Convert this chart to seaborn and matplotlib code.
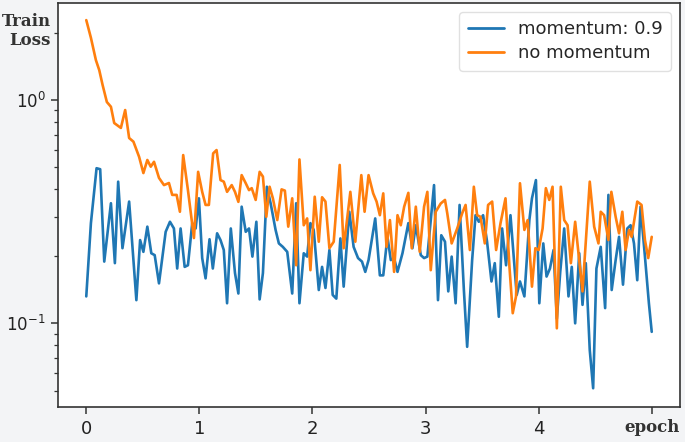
import numpy as np
import pandas as pd
import matplotlib
matplotlib.use("Agg")
import matplotlib.pyplot as plt
import seaborn as sns

# ---- data ----
momentum_epoch = [0.000, 0.041, 0.091, 0.123, 0.159, 0.218, 0.253, 0.282, 0.320, 0.379,
                  0.443, 0.476, 0.505, 0.540, 0.575, 0.605, 0.643, 0.702, 0.740, 0.775,
                  0.804, 0.834, 0.870, 0.899, 0.937, 0.967, 0.996, 1.025, 1.055, 1.090,
                  1.119, 1.157, 1.187, 1.216, 1.245, 1.278, 1.315, 1.345, 1.374, 1.410,
                  1.439, 1.469, 1.504, 1.533, 1.562, 1.597, 1.630, 1.674, 1.703, 1.738,
                  1.777, 1.821, 1.856, 1.885, 1.923, 1.953, 1.982, 2.011, 2.056, 2.085,
                  2.115, 2.150, 2.179, 2.211, 2.247, 2.276, 2.326, 2.364, 2.403, 2.438,
                  2.467, 2.496, 2.555, 2.596, 2.626, 2.663, 2.693, 2.722, 2.752, 2.796,
                  2.848, 2.884, 2.914, 2.958, 2.987, 3.016, 3.075, 3.110, 3.139, 3.172,
                  3.201, 3.231, 3.266, 3.301, 3.339, 3.368, 3.412, 3.442, 3.471, 3.509,
                  3.544, 3.583, 3.612, 3.648, 3.677, 3.712, 3.751, 3.806, 3.835, 3.874,
                  3.918, 3.941, 3.976, 4.006, 4.041, 4.070, 4.100, 4.132, 4.161, 4.191,
                  4.226, 4.264, 4.293, 4.323, 4.359, 4.388, 4.417, 4.452, 4.482, 4.511,
                  4.549, 4.588, 4.617, 4.646, 4.681, 4.711, 4.746, 4.784, 4.813, 4.843,
                  4.872, 4.901, 4.940, 4.975, 5.000]
momentum_loss = [0.132, 0.281, 0.495, 0.490, 0.189, 0.345, 0.186, 0.431, 0.217, 0.351,
                 0.127, 0.236, 0.209, 0.271, 0.206, 0.202, 0.151, 0.257, 0.285, 0.266,
                 0.176, 0.266, 0.179, 0.182, 0.281, 0.266, 0.363, 0.196, 0.159, 0.238,
                 0.176, 0.253, 0.236, 0.213, 0.123, 0.266, 0.168, 0.136, 0.333, 0.257,
                 0.266, 0.199, 0.285, 0.128, 0.168, 0.409, 0.345, 0.262, 0.228, 0.220,
                 0.209, 0.136, 0.345, 0.123, 0.206, 0.199, 0.281, 0.262, 0.141, 0.179,
                 0.144, 0.213, 0.134, 0.129, 0.240, 0.146, 0.316, 0.220, 0.196, 0.189,
                 0.170, 0.192, 0.295, 0.164, 0.164, 0.244, 0.192, 0.196, 0.170, 0.206,
                 0.281, 0.217, 0.275, 0.202, 0.196, 0.199, 0.416, 0.127, 0.248, 0.232,
                 0.139, 0.199, 0.123, 0.339, 0.141, 0.0785, 0.192, 0.305, 0.285, 0.305,
                 0.232, 0.154, 0.186, 0.107, 0.266, 0.182, 0.305, 0.134, 0.154, 0.132,
                 0.290, 0.363, 0.438, 0.123, 0.228, 0.162, 0.176, 0.213, 0.105, 0.170,
                 0.266, 0.132, 0.179, 0.100, 0.206, 0.121, 0.186, 0.0759, 0.0512, 0.176,
                 0.220, 0.117, 0.376, 0.141, 0.192, 0.244, 0.149, 0.266, 0.275, 0.228,
                 0.156, 0.333, 0.199, 0.123, 0.0916]

plain_epoch = [0.000, 0.041, 0.085, 0.115, 0.144, 0.182, 0.218, 0.247, 0.306, 0.344,
               0.379, 0.417, 0.467, 0.505, 0.540, 0.570, 0.599, 0.643, 0.687, 0.731,
               0.760, 0.799, 0.828, 0.857, 0.899, 0.952, 0.989, 1.025, 1.055, 1.084,
               1.122, 1.152, 1.187, 1.216, 1.245, 1.286, 1.315, 1.345, 1.374, 1.410,
               1.439, 1.463, 1.498, 1.533, 1.562, 1.592, 1.621, 1.650, 1.689, 1.727,
               1.756, 1.786, 1.821, 1.856, 1.885, 1.923, 1.953, 1.982, 2.020, 2.056,
               2.085, 2.115, 2.150, 2.188, 2.241, 2.276, 2.335, 2.379, 2.432, 2.461,
               2.496, 2.537, 2.567, 2.596, 2.626, 2.655, 2.685, 2.722, 2.752, 2.781,
               2.811, 2.848, 2.878, 2.914, 2.949, 2.987, 3.016, 3.046, 3.090, 3.134,
               3.172, 3.192, 3.231, 3.280, 3.324, 3.354, 3.392, 3.427, 3.456, 3.486,
               3.524, 3.553, 3.589, 3.624, 3.663, 3.707, 3.742, 3.771, 3.800, 3.835,
               3.874, 3.903, 3.941, 3.971, 4.000, 4.035, 4.064, 4.094, 4.123, 4.161,
               4.196, 4.226, 4.256, 4.285, 4.323, 4.359, 4.388, 4.452, 4.491, 4.529,
               4.549, 4.579, 4.617, 4.643, 4.681, 4.711, 4.740, 4.769, 4.799, 4.822,
               4.872, 4.910, 4.940, 4.969, 5.000]
plain_loss = [2.28, 1.90, 1.51, 1.36, 1.17, 0.98, 0.933, 0.789, 0.750, 0.902,
              0.676, 0.651, 0.557, 0.471, 0.539, 0.503, 0.529, 0.448, 0.416, 0.425,
              0.376, 0.376, 0.316, 0.567, 0.395, 0.241, 0.477, 0.388, 0.339, 0.339,
              0.577, 0.597, 0.438, 0.431, 0.388, 0.416, 0.388, 0.350, 0.461, 0.424,
              0.395, 0.403, 0.357, 0.477, 0.454, 0.300, 0.409, 0.363, 0.290, 0.398,
              0.393, 0.271, 0.363, 0.182, 0.542, 0.275, 0.295, 0.173, 0.369, 0.232,
              0.367, 0.351, 0.217, 0.232, 0.512, 0.217, 0.388, 0.232, 0.461, 0.316,
              0.461, 0.382, 0.351, 0.305, 0.382, 0.220, 0.290, 0.170, 0.305, 0.275,
              0.333, 0.384, 0.217, 0.333, 0.209, 0.333, 0.388, 0.173, 0.316, 0.344,
              0.357, 0.311, 0.228, 0.266, 0.311, 0.339, 0.213, 0.409, 0.305, 0.300,
              0.228, 0.339, 0.351, 0.213, 0.281, 0.363, 0.179, 0.111, 0.132, 0.424,
              0.262, 0.290, 0.146, 0.217, 0.213, 0.266, 0.403, 0.357, 0.409, 0.095,
              0.409, 0.290, 0.275, 0.186, 0.285, 0.192, 0.139, 0.431, 0.271, 0.228,
              0.316, 0.305, 0.236, 0.388, 0.300, 0.253, 0.316, 0.213, 0.262, 0.244,
              0.351, 0.339, 0.236, 0.196, 0.244]

series_names = ["momentum: 0.9", "no momentum"]
x_tick_values = [0, 1, 2, 3, 4, 5]
x_tick_labels = ["0", "1", "2", "3", "4", "epoch"]

df = pd.concat([
    pd.DataFrame({"epoch": momentum_epoch, "loss": momentum_loss, "series": series_names[0]}),
    pd.DataFrame({"epoch": plain_epoch, "loss": plain_loss, "series": series_names[1]}),
], ignore_index=True)

# ---- style ----
sns.set_style("ticks")
plt.rcParams["font.family"] = ["DejaVu Sans"]

bg = "#f3f4f6"
fig = plt.figure(figsize=(6.85, 4.42), dpi=100, facecolor=bg)
ax = fig.add_axes([58 / 685, 35 / 442, 622 / 685, 404 / 442])
ax.set_facecolor("white")

sns.lineplot(data=df, x="epoch", y="loss", hue="series", hue_order=series_names,
             palette=["#1f77b4", "#ff7f0e"], estimator=None, sort=False,
             linewidth=1.9, ax=ax)

ax.set_yscale("log")
ax.set_ylim(0.0422, 2.72)
ax.set_xlim(-0.25, 5.25)
ax.set_xticks(x_tick_values)
ax.set_xticklabels(x_tick_labels)

ax.tick_params(axis="both", which="major", length=5, width=1.1,
               color="#333333", labelcolor="#222222")
ax.tick_params(axis="x", which="major", labelsize=13, pad=4)
ax.tick_params(axis="y", which="major", labelsize=12, pad=4)
ax.tick_params(axis="y", which="minor", length=3, width=0.9, color="#333333")

for lab in ax.get_xticklabels():
    if lab.get_text() == "epoch":
        lab.set_fontfamily("DejaVu Serif")
        lab.set_fontweight("bold")
        lab.set_fontsize(12)
        lab.set_color("#333333")

for sp in ax.spines.values():
    sp.set_visible(True)
    sp.set_color("#333333")
    sp.set_linewidth(1.2)

ax.set_xlabel("")
ax.set_ylabel("Train\nLoss", rotation=0, fontfamily="DejaVu Serif", fontweight="bold",
              fontsize=12, color="#333333", ha="right", va="center", linespacing=1.15)
ax.yaxis.set_label_coords(-0.012, 0.93)

leg = ax.legend(loc="upper right", fontsize=13, frameon=True, fancybox=True,
                handlelength=2.0, borderpad=0.45, labelspacing=0.35, handletextpad=0.8,
                borderaxespad=0.5)
leg.get_frame().set_edgecolor("#d9d9d9")
leg.get_frame().set_linewidth(1.0)
leg.set_title(None)
for line in leg.get_lines():
    line.set_linewidth(2.0)

fig.savefig("out.png", dpi=100, facecolor=bg)
